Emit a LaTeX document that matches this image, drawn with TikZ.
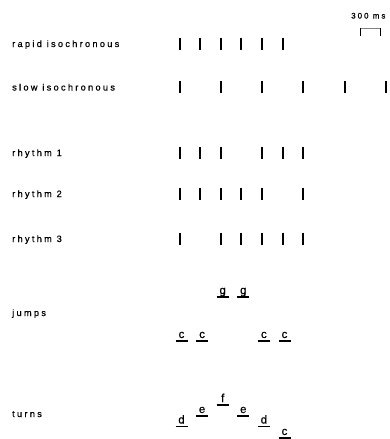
\documentclass[tikz,border=0pt]{standalone}
\usepackage{fontspec}
\setmainfont{Liberation Sans}
\newfontfamily\lbl[LetterSpace=25,FakeBold=0.6]{Liberation Sans}
\newfontfamily\notefont[FakeBold=0.5]{Liberation Sans}
\begin{document}
\begin{tikzpicture}[x=1pt,y=-1pt,
  beat/.style={line width=1.8pt, line cap=butt},
  lab/.style={anchor=base west, inner sep=0pt, font=\lbl\fontsize{9.2}{11}\selectfont},
  smalllab/.style={anchor=base west, inner sep=0pt, font=\lbl\fontsize{8}{9}\selectfont},
  notelet/.style={anchor=base, inner sep=0pt, font=\notefont\fontsize{11.5}{13}\selectfont},
  uline/.style={line width=1.3pt}]
\fill[white] (0,0) rectangle (390,439);
\useasboundingbox (0,0) rectangle (390,439);

% scale bar
\node[smalllab] (scale) at (351,18.5) {300 ms};
\coordinate (sbL) at (360.5,28);
\coordinate (sbR) at (380.5,28);
\draw[line width=0.6pt, gray] (sbL) -- (sbR);
\draw[line width=1.5pt] (sbL) -- ++(0,8);
\draw[line width=1.5pt] (sbR) -- ++(0,8);

% labels
\node[lab] (rapid) at (12,47) {rapid isochronous};
\node[lab] (slow) at (12,90.5) {slow isochronous};
\node[lab] (r1) at (12,156) {rhythm 1};
\node[lab] (r2) at (12,197) {rhythm 2};
\node[lab] (r3) at (12,242) {rhythm 3};
\node[lab] (jumps) at (12,316) {jumps};
\node[lab] (turns) at (12,417) {turns};

% ticks (x positions rounded to whole pixels)
\foreach \x in {180,200,221,241,262,283} \draw[beat] (\x,37.5) -- ++(0,12);
\foreach \x in {180,221,262,303,345,386} \draw[beat] (\x,81) -- ++(0,12);
\foreach \x in {180,200,221,262,283,303} \draw[beat] (\x,146.5) -- ++(0,12);
\foreach \x in {180,200,221,241,262,303} \draw[beat] (\x,187.5) -- ++(0,12);
\foreach \x in {180,221,241,262,283,303} \draw[beat] (\x,232.5) -- ++(0,12);

% notes
\foreach \k/\yb/\t in {0/338/c,1/338/c,2/294/g,3/294/g,4/338/c,5/338/c,
                       0/423.5/d,1/413/e,2/402/f,3/413/e,4/423.5/d,5/435/c}{
  \node[notelet] (n-\k-\t-\yb) at ({181.5+20.6*\k},\yb) {\t};
  \draw[uline] ({181.5+20.6*\k-6},\yb+3) -- ({181.5+20.6*\k+6},\yb+3);
}
\end{tikzpicture}
\end{document}
